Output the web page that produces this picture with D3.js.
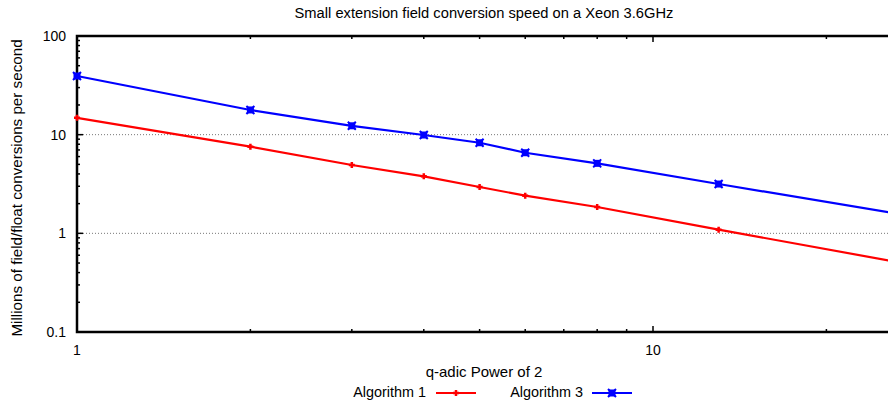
<!DOCTYPE html>
<html>
<head>
<meta charset="utf-8">
<script src="https://cdn.jsdelivr.net/npm/d3@7"></script>
<style>
  html, body { margin: 0; padding: 0; background: #fff; }
  svg { display: block; font-family: "Liberation Sans", Arial, sans-serif; }
</style>
</head>
<body>
<svg id="chart" width="888" height="409"></svg>
<script>
const title = "Small extension field conversion speed on a Xeon 3.6GHz";
const xLabel = "q-adic Power of 2";
const yLabel = "Millions of field/float conversions per second";
const powers = [1, 2, 3, 4, 5, 6, 8, 13, 32];
const algorithm1 = [14.8, 7.55, 4.93, 3.78, 2.95, 2.41, 1.85, 1.09, 0.42];
const algorithm3 = [39.3, 17.8, 12.3, 9.92, 8.28, 6.56, 5.12, 3.16, 1.32];
const seriesNames = ["Algorithm 1", "Algorithm 3"];
const seriesColors = ["#ff0000", "#0000ff"];
const yTicks = [0.1, 1, 10, 100];
const xTicks = [1, 10];

(function () {
const svg = d3.select("#chart");
const pLeft = 77, pTop = 36, pBottom = 332;
const decadeX = 576;
const xMax = 32;
const x = d3.scaleLog().domain([1, xMax]).range([pLeft, pLeft + decadeX * Math.log10(xMax)]);
const y = d3.scaleLog().domain([0.1, 100]).range([pBottom, pTop]);
const rightEdge = x(xMax);

// horizontal grid
svg.append("g").selectAll("line").data([1, 10]).join("line")
  .attr("x1", pLeft).attr("x2", rightEdge)
  .attr("y1", d => y(d)).attr("y2", d => y(d))
  .attr("stroke", "#777").attr("stroke-width", 1).attr("stroke-dasharray", "1,2");

// minor tick values
const yMinor = [];
for (let e = -1; e < 2; e++) for (let m = 2; m <= 9; m++) yMinor.push(m * Math.pow(10, e));
const xMinor = [];
for (let e = 0; e < 2; e++) for (let m = 2; m <= 9; m++) { const v = m * Math.pow(10, e); if (v < xMax) xMinor.push(v); }

const tickG = svg.append("g").attr("stroke", "#000").attr("stroke-width", 1.5);
tickG.selectAll(".ymaj").data(yTicks).join("line")
  .attr("x1", pLeft).attr("x2", pLeft + 6).attr("y1", d => y(d)).attr("y2", d => y(d));
tickG.selectAll(".ymin").data(yMinor).join("line")
  .attr("x1", pLeft).attr("x2", pLeft + 3).attr("y1", d => y(d)).attr("y2", d => y(d));
tickG.selectAll(".xmajb").data(xTicks).join("line")
  .attr("x1", d => x(d)).attr("x2", d => x(d)).attr("y1", pBottom).attr("y2", pBottom - 6);
tickG.selectAll(".xminb").data(xMinor).join("line")
  .attr("x1", d => x(d)).attr("x2", d => x(d)).attr("y1", pBottom).attr("y2", pBottom - 3);
tickG.selectAll(".xmajt").data(xTicks).join("line")
  .attr("x1", d => x(d)).attr("x2", d => x(d)).attr("y1", pTop).attr("y2", pTop + 6);
tickG.selectAll(".xmint").data(xMinor).join("line")
  .attr("x1", d => x(d)).attr("x2", d => x(d)).attr("y1", pTop).attr("y2", pTop + 3);

// border (left, top, bottom)
svg.append("path")
  .attr("d", `M${rightEdge},${pTop}H${pLeft}V${pBottom}H${rightEdge}`)
  .attr("fill", "none").attr("stroke", "#000").attr("stroke-width", 2.5);

// tick labels
svg.append("g").selectAll("text").data(yTicks).join("text")
  .attr("x", pLeft - 11).attr("y", d => y(d)).attr("dy", "0.35em")
  .attr("text-anchor", "end").attr("font-size", 14).text(d => d3.format("~g")(d));
svg.append("g").selectAll("text").data(xTicks).join("text")
  .attr("x", d => x(d)).attr("y", pBottom + 23)
  .attr("text-anchor", "middle").attr("font-size", 14).text(d => d);

// titles
svg.append("text").attr("x", 484).attr("y", 18).attr("text-anchor", "middle")
  .attr("font-size", 14.7).text(title);
svg.append("text").attr("x", 484).attr("y", 377).attr("text-anchor", "middle")
  .attr("font-size", 15).text(xLabel);
svg.append("text").attr("transform", "translate(22,188) rotate(-90)").attr("text-anchor", "middle")
  .attr("font-size", 15.2).text(yLabel);

// series
const series = [algorithm1, algorithm3];
const line = d3.line().x((d, i) => x(powers[i])).y(d => y(d));

function marker(g, kind, color, cx, cy) {
  if (kind === 0) {
    g.append("path").attr("d", `M${cx-3},${cy}H${cx+3}M${cx},${cy-3}V${cy+3}`)
      .attr("stroke", color).attr("stroke-width", 2.5);
  } else {
    g.append("rect").attr("x", cx - 3.5).attr("y", cy - 3.5).attr("width", 7).attr("height", 7).attr("fill", color);
    g.append("path").attr("d", `M${cx-4},${cy-4}L${cx+4},${cy+4}M${cx-4},${cy+4}L${cx+4},${cy-4}`)
      .attr("stroke", color).attr("stroke-width", 2);
  }
}

series.forEach((vals, k) => {
  const g = svg.append("g");
  g.append("path").datum(vals).attr("d", line)
    .attr("fill", "none").attr("stroke", seriesColors[k]).attr("stroke-width", 2.2);
  vals.forEach((v, i) => marker(g, k, seriesColors[k], x(powers[i]), y(v)));
});

// legend
const legendItems = [
  { textEnd: 426, x1: 436, x2: 476 },
  { textEnd: 583, x1: 592, x2: 632 }
];
legendItems.forEach((it, k) => {
  const g = svg.append("g");
  g.append("text").attr("x", it.textEnd).attr("y", 397).attr("text-anchor", "end")
    .attr("font-size", 14.4).text(seriesNames[k]);
  g.append("line").attr("x1", it.x1).attr("x2", it.x2).attr("y1", 393).attr("y2", 393)
    .attr("stroke", seriesColors[k]).attr("stroke-width", 2.2);
  marker(g, k, seriesColors[k], (it.x1 + it.x2) / 2, 393);
});
})();
</script>
</body>
</html>
